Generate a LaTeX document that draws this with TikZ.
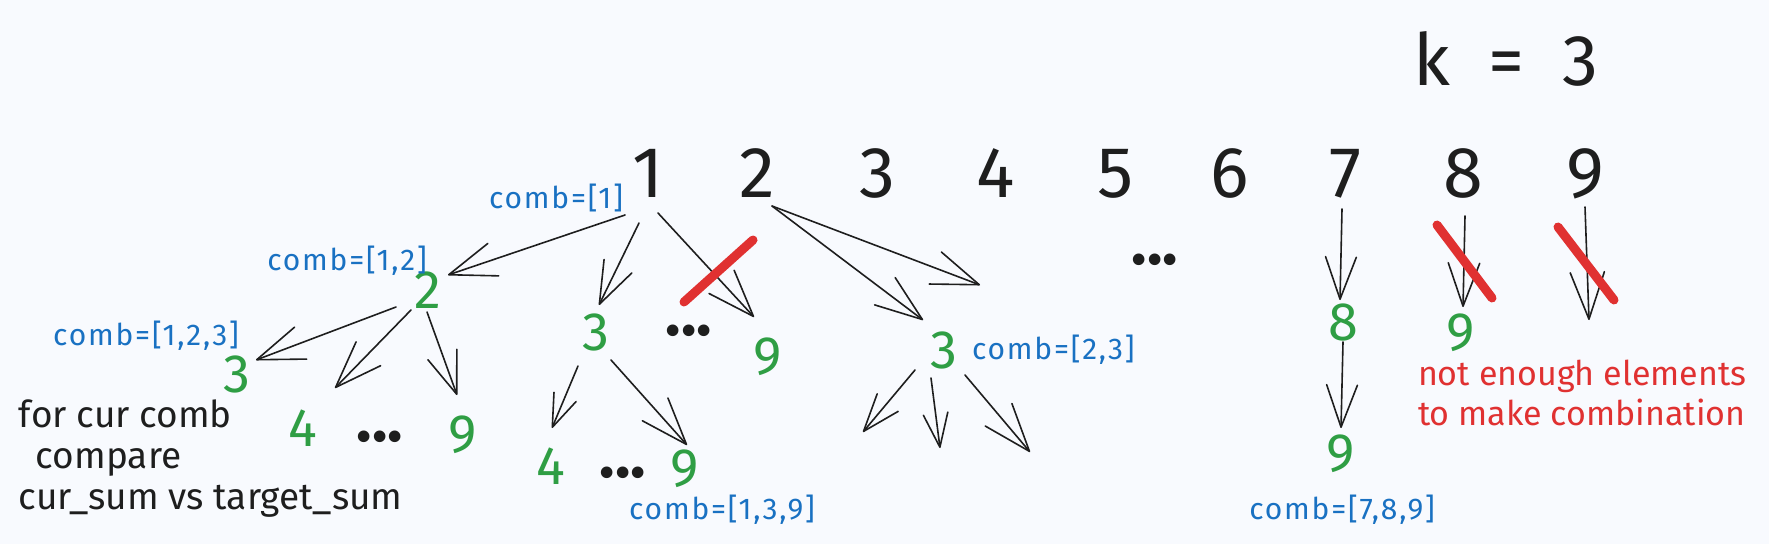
\documentclass[tikz,border=0pt]{standalone}
\usepackage{fontspec}
\setmainfont{Fira Sans}
\usetikzlibrary{arrows.meta,calc}
\definecolor{cBg}{HTML}{F8FAFE}
\definecolor{cInk}{HTML}{1E1E1E}
\definecolor{cBlue}{HTML}{1971C2}
\definecolor{cGreen}{HTML}{2F9E44}
\definecolor{cRed}{HTML}{E03131}
\begin{document}
\begin{tikzpicture}[x=1pt,y=-1pt,
  every node/.style={inner sep=0pt,outer sep=0pt},
  topnum/.style={font=\fontsize{72}{80}\selectfont,text=cInk,anchor=base},
  gnum/.style={font=\fontsize{54}{60}\selectfont,text=cGreen},
  lbl/.style={font=\fontsize{30}{34}\selectfont\addfontfeature{LetterSpace=6},text=cBlue},
  dotz/.style={font=\bfseries\fontsize{64}{70}\selectfont,text=cInk},
  note/.style={font=\fontsize{37}{41}\selectfont,text=cInk,align=left,anchor=north west},
  warn/.style={font=\fontsize{34}{40}\selectfont,text=cRed,align=left,anchor=north west},
  arr/.style={draw=cInk,line width=1.6pt,line cap=round,line join=round,
    -{Straight Barb[angle=40:#1pt,round]}},
  arr/.default=48,
  xmark/.style={draw=cRed,line width=9pt,line cap=round}]
\fill[cBg] (0,0) rectangle (1769,544);
\useasboundingbox (0,0) rectangle (1769,544);

% title
\node[topnum] (k) at (1506,85) {k\hspace{38pt}=\hspace{38pt}3};

% top row
\node[topnum] (t1) at (648,197) {1};
\node[topnum] (t2) at (757,197) {2};
\node[topnum] (t3) at (877,197) {3};
\node[topnum] (t4) at (996,197) {4};
\node[topnum] (t5) at (1116,197) {5};
\node[topnum] (t6) at (1230,197) {6};
\node[topnum] (t7) at (1345,197) {7};
\node[topnum] (t8) at (1463,197) {8};
\node[topnum] (t9) at (1585,197) {9};

% green nodes
\node[gnum] (g2)  at (428,290) {2};
\node[gnum] (g3a) at (237,374) {3};
\node[gnum] (g4a) at (303,428) {4};
\node[gnum] (g9a) at (463,435) {9};
\node[gnum] (g3b) at (596,332) {3};
\node[gnum] (g9b) at (768,357) {9};
\node[gnum] (g4b) at (551,466) {4};
\node[gnum] (g9c) at (685,469) {9};
\node[gnum] (g3c) at (944,350) {3};
\node[gnum] (g8)  at (1343,322) {8};
\node[gnum] (g9d) at (1341,454) {9};
\node[gnum] (g9e) at (1461,333) {9};

% dots
\node[dotz] (dA) at (380,437) {...};
\node[dotz] (dB) at (689,331) {...};
\node[dotz] (dC) at (623,473) {...};
\node[dotz] (dT) at (1155,260) {...};

% labels
\node[lbl] (c1)   at (556,198) {comb=[1]};
\node[lbl] (c12)  at (347,261) {comb=[1,2]};
\node[lbl] (c123) at (146,336) {comb=[1,2,3]};
\node[lbl,anchor=west] (c23) at (972,350) {comb=[2,3]};
\node[lbl] (c139) at (722,510) {comb=[1,3,9]};
\node[lbl] (c789) at (1342,510) {comb=[7,8,9]};

\node[note] (nt) at (19,400) {for cur comb\\\hspace{17pt}compare\\cur\_sum vs target\_sum};
\node[warn] (wr) at (1418,360) {not enough elements\\to make combination};

% free ends
\coordinate (e2)  at (980,285);
\coordinate (e3a) at (863,432);
\coordinate (e3b) at (940,448);
\coordinate (e3c) at (1030,452);
\coordinate (e9)  at (1589,320);

% arrows
\draw[arr=50] ([shift={(-23,18)}]t1.base) -- ([shift={(20,-15)}]g2.center);
\draw[arr=45] ([shift={(-9,26)}]t1.base) -- ([shift={(3,-27)}]g3b.center);
\draw[arr=50] ([shift={(10,16)}]t1.base) -- ([shift={(-14,-40)}]g9b.center);
\draw[arr=50] ([shift={(15,9)}]t2.base) -- ([shift={(-21,-30)}]g3c.center);
\draw[arr=50] ([shift={(15,9)}]t2.base) -- (e2);
\draw[arr=50] ([shift={(-32,17)}]g2.center) -- ([shift={(19,-14)}]g3a.center);
\draw[arr=50] ([shift={(-17,20)}]g2.center) -- ([shift={(32,-40)}]g4a.center);
\draw[arr=45] ([shift={(-1,22)}]g2.center) -- ([shift={(-6,-40)}]g9a.center);
\draw[arr=35] ([shift={(-18,34)}]g3b.center) -- ([shift={(1,-38)}]g4b.center);
\draw[arr=50] ([shift={(15,28)}]g3b.center) -- ([shift={(2,-24)}]g9c.center);
\draw[arr=40] ([shift={(-29,20)}]g3c.center) -- (e3a);
\draw[arr=36] ([shift={(-13,28)}]g3c.center) -- (e3b);
\draw[arr=51] ([shift={(21,25)}]g3c.center) -- (e3c);
\draw[arr=45] ([shift={(-3,12)}]t7.base) -- ([shift={(-3,-22)}]g8.center);
\draw[arr=45] ([shift={(0,20)}]g8.center) -- ([shift={(0,-26)}]g9d.center);
\draw[arr=46] ([shift={(2,19)}]t8.base) -- ([shift={(2,-26)}]g9e.center);
\draw[arr=50] ([shift={(0,10)}]t9.base) -- (e9);

% red crosses
\draw[xmark] (684,302) -- (753,240);
\draw[xmark] (1437,225) -- (1492,298);
\draw[xmark] (1558,227) -- (1614,300);
\end{tikzpicture}
\end{document}
